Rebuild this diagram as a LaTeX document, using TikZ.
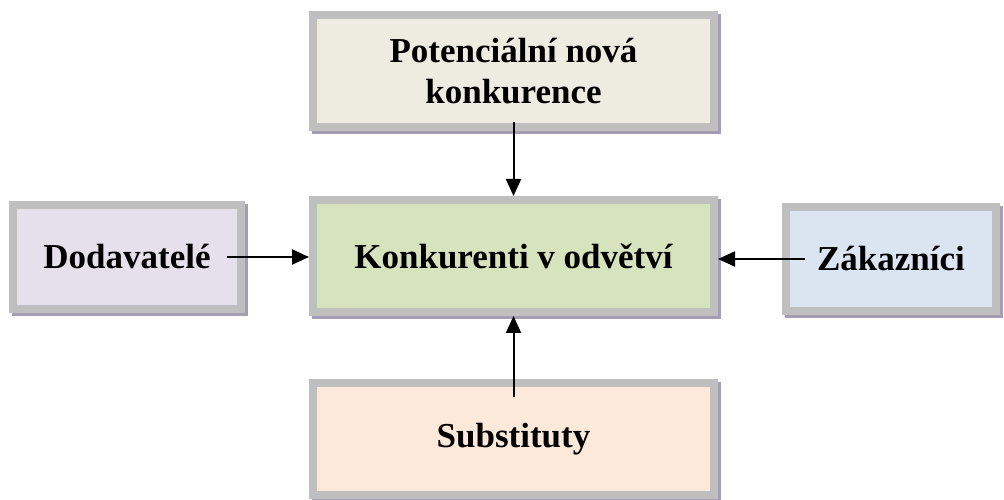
\documentclass[tikz,border=0pt]{standalone}
\usepackage{fontspec}
\setmainfont{Liberation Serif}
\usetikzlibrary{arrows.meta}
\usetikzlibrary{backgrounds}
\tikzset{box/.style = {draw = boxgrey, line width = 8pt, rectangle, align = center,
                       inner sep = 0, font = \bfseries\fontsize{35}{41}\selectfont}}
\tikzset{push/.style = {line width = 2pt, -{Triangle[length = 17pt, width = 15pt]}}}
\definecolor{boxgrey}{HTML}{BFBFBF}
\definecolor{shadowc}{HTML}{A39EB4}
\definecolor{potfill}{HTML}{EEECE1}
\definecolor{konkfill}{HTML}{D7E3BC}
\definecolor{dodfill}{HTML}{E5E0EC}
\definecolor{zakfill}{HTML}{DBE5F1}
\definecolor{subfill}{HTML}{FDE9D9}

\begin{document}
\begin{tikzpicture}[x = 1pt, y = 1pt]
    \useasboundingbox (0, 0) rectangle (1004, 500);

    \node [box, fill = potfill, minimum width = 401pt, minimum height = 112pt] (pot) at (513.5, 429) {Potenciální nová\\konkurence};
    \node [box, fill = konkfill, minimum width = 401pt, minimum height = 112pt] (konk) at (513.5, 244) {Konkurenti v odvětví};
    \node [box, fill = dodfill, minimum width = 228pt, minimum height = 104pt] (dod) at (127, 243) {Dodavatelé};
    \node [box, fill = zakfill, minimum width = 210pt, minimum height = 104pt] (zak) at (891, 241) {Zákazníci};
    \node [box, fill = subfill, minimum width = 401pt, minimum height = 112pt] (sub) at (513.5, 61) {Substituty};

    \begin{scope}[on background layer]
      \foreach \n in {pot, konk, dod, zak, sub}
        \fill [shadowc] ([shift = {(3, -3)}]\n.south west) rectangle ([shift = {(3, -3)}]\n.north east);
    \end{scope}

    \draw [push, shorten <= -9pt] (pot.south) -- (konk.north);
    \draw [push, shorten <= -18pt] (dod.east) -- (dod.east -| konk.west);
    \draw [push, shorten <= -23pt] (zak.west) -- (zak.west -| konk.east);
    \draw [push, shorten <= -18pt] (sub.north) -- (konk.south);
  \end{tikzpicture}
\end{document}
